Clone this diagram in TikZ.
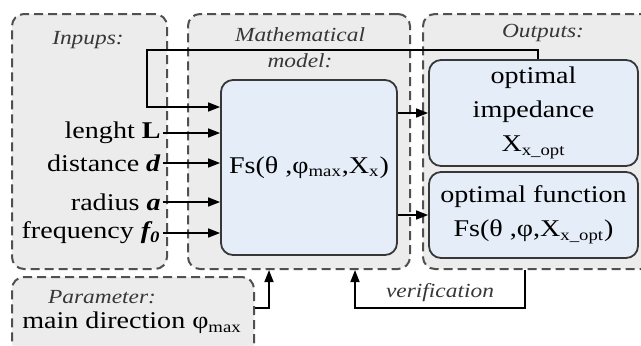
\documentclass[tikz,border=0pt]{standalone}
\usepackage{fontspec}
\setmainfont{Liberation Serif}[FakeStretch=1.17]
\usetikzlibrary{arrows.meta}
\definecolor{panelfill}{RGB}{236,236,236}
\definecolor{paneldraw}{RGB}{80,80,80}
\definecolor{boxfill}{RGB}{229,237,248}
\definecolor{boxdraw}{RGB}{55,55,55}
\definecolor{headcol}{RGB}{55,55,55}
\begin{document}
\begin{tikzpicture}[x=0.5pt,y=-0.5pt,
  panel/.style={draw=paneldraw,fill=panelfill,line width=1pt,dash pattern=on 4.5pt off 2.5pt,rounded corners=6pt,inner sep=0pt},
  blockbox/.style={draw=boxdraw,fill=boxfill,line width=0.9pt,rounded corners=6pt,inner sep=0pt,align=center,font=\fontsize{12}{17}\selectfont},
  heading/.style={font=\fontsize{10}{12}\selectfont\itshape,text=headcol,align=center,inner sep=0pt},
  lbl/.style={font=\fontsize{12}{17}\selectfont,inner sep=0pt,anchor=east},
  conn/.style={line width=0.8pt,draw=black},
  arr/.style={conn,-{Triangle[length=6pt,width=4.5pt]}}
  ]
\useasboundingbox (0,0) rectangle (641,345);
\clip (0,0) rectangle (641,345);
% panels
\node[panel,minimum width=77.5pt,minimum height=127.5pt] (inp) at (89.5,141.5) {};
\node[panel,minimum width=111pt,minimum height=127.5pt] (math) at (299,141.5) {};
\node[panel,minimum width=118.5pt,minimum height=127.5pt] (outp) at (541.5,141.5) {};
\node[panel,minimum width=121pt,minimum height=39pt] (par) at (133,316) {};
% headings
\node[heading] (hinp) at (88,40) {Inpups:};
\node[heading] (hmath1) at (300,35) {Mathematical};
\node[heading] (hmath2) at (300,61) {model:};
\node[heading] (hout) at (543,33) {Outputs:};
\node[heading] (hpar) at (102,297) {Parameter:};
% blocks
\node[blockbox,minimum width=88pt,minimum height=87.5pt] (main) at (309,167.5) {Fs(θ ,φ\textsubscript{max},X\textsubscript{x})};
\node[blockbox,minimum width=104.5pt,minimum height=53pt] (out1) at (533.5,113) {optimal\\impedance\\X\textsubscript{x\_opt}};
\node[blockbox,minimum width=104.5pt,minimum height=43pt] (out2) at (533.5,215) {optimal function\\Fs(θ ,φ,X\textsubscript{x\_opt})};
% parameter text
\node[font=\fontsize{12}{17}\selectfont,inner sep=0pt] (ptext) at (132,323) {main direction φ\textsubscript{max}};
% input labels
\node[lbl] (l1) at (161,133) {lenght \textbf{L}};
\node[lbl] (l2) at (161,163) {distance \textbf{\textit{d}}};
\node[lbl] (l3) at (161,202) {radius \textbf{\textit{a}}};
\node[lbl] (l4) at (161,233) {frequency \textbf{\textit{f\textsubscript{0}}}};
\draw[arr] (l1.east) ++(2,0) -- (main.west |- l1);
\draw[arr] (l2.east) ++(2,0) -- (main.west |- l2);
\draw[arr] (l3.east) ++(2,0) -- (main.west |- l3);
\draw[arr] (l4.east) ++(2,0) -- (main.west |- l4);
% feedback loop from optimal impedance
\coordinate (lp1) at (538,50);
\coordinate (lp2) at (147,50);
\coordinate (lp3) at (147,107);
\draw[arr] (out1.north -| lp1) -- (lp1) -- (lp2) -- (lp3) -- (main.west |- lp3);
% outputs
\coordinate (o1) at (397,113);
\coordinate (o2) at (397,215);
\draw[arr] (main.east |- o1) -- (out1.west |- o1);
\draw[arr] (main.east |- o2) -- (out2.west |- o2);
% parameter to math
\coordinate (pa) at (269,308);
\draw[arr] (par.east |- pa) -- (pa) -- (pa |- math.south);
% verification
\coordinate (v1) at (525,308);
\coordinate (v2) at (355,308);
\draw[arr] (v1 |- outp.south) -- (v1) -- (v2) -- (v2 |- math.south);
\node[heading] (vtext) at (440,293) {verification};
\end{tikzpicture}
\end{document}
